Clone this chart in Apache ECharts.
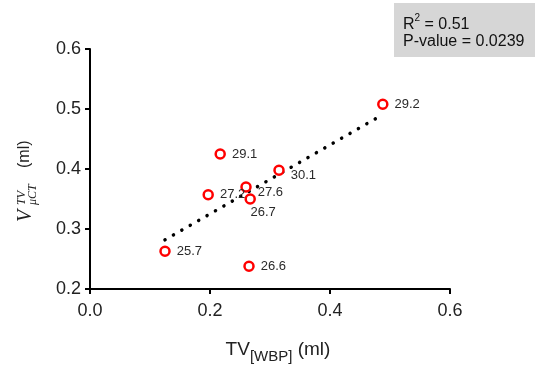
<!DOCTYPE html>
<html>
<head>
<meta charset="utf-8">
<script src="https://cdn.jsdelivr.net/npm/echarts@6/dist/echarts.min.js"></script>
<style>
html,body{margin:0;padding:0;background:#fff;}
#c{width:535px;height:365px;}
</style>
</head>
<body>
<div id="c"></div>
<script>
// Data
const tvWBP   = [0.488, 0.217, 0.315, 0.260, 0.267, 0.197, 0.125, 0.265];
const vMicroCT = [0.508, 0.425, 0.398, 0.370, 0.350, 0.357, 0.263, 0.238];
const pointLabels = ['29.2', '29.1', '30.1', '27.6', '26.7', '27.2', '25.7', '26.6'];
const fitX = [0.125, 0.478];
const fitY = [0.282, 0.485];
const xTicks = [0, 0.2, 0.4, 0.6];
const yTicks = [0.2, 0.3, 0.4, 0.5, 0.6];
const rSquared = '0.51';
const pValue = '0.0239';

// label placement (style, not data)
const labelStyleFor = {
  '30.1': {position: 'right', offset: [0, 5]},
  '27.6': {position: 'right', offset: [0, 5]},
  '26.7': {position: 'bottom', offset: [13, -5]}
};

const chart = echarts.init(document.getElementById('c'));
const pts = tvWBP.map((x, i) => {
  const lab = pointLabels[i];
  const ls = labelStyleFor[lab] || {position: 'right', offset: [0, 0]};
  return {value: [x, vMicroCT[i]], name: lab, label: {position: ls.position, offset: ls.offset}};
});
const fit = fitX.map((x, i) => [x, fitY[i]]);

const axisCommon = {
  axisLine: {show: true, onZero: false, lineStyle: {color: '#000', width: 2}},
  axisTick: {show: true, inside: false, length: 5, lineStyle: {color: '#000', width: 2}},
  splitLine: {show: false},
  axisLabel: {color: '#222', fontSize: 18, fontFamily: 'Liberation Sans, Arial, sans-serif'}
};

chart.setOption({
  animation: false,
  backgroundColor: '#fff',
  grid: {left: 90, right: 85, top: 49, bottom: 76, containLabel: false, outerBoundsMode: 'none'},
  xAxis: Object.assign({}, axisCommon, {
    type: 'value', min: 0, max: 0.6, interval: 0.2,
    axisLabel: Object.assign({}, axisCommon.axisLabel, {margin: 13, formatter: v => v.toFixed(1)}),
    name: '{a|TV}{b|[WBP]}{a| (ml)}',
    nameLocation: 'middle', nameGap: 47,
    nameTextStyle: {
      padding: [0, 0, 0, 16],
      rich: {
        a: {fontSize: 19, color: '#222', fontFamily: 'Liberation Sans, Arial, sans-serif', lineHeight: 28, verticalAlign: 'middle'},
        b: {fontSize: 15, color: '#222', fontFamily: 'Liberation Sans, Arial, sans-serif', lineHeight: 28, verticalAlign: 'bottom'}
      }
    }
  }),
  yAxis: Object.assign({}, axisCommon, {
    type: 'value', min: 0.2, max: 0.6, interval: 0.1,
    axisLabel: Object.assign({}, axisCommon.axisLabel, {margin: 9, formatter: v => v.toFixed(1)})
  }),
  series: [
    {
      type: 'line',
      data: fit,
      symbol: 'none',
      z: 1,
      lineStyle: {color: '#000', width: 3.5, type: [0.1, 9.6], cap: 'round'}
    },
    {
      type: 'scatter',
      data: pts,
      z: 3,
      symbol: 'circle',
      symbolSize: 9,
      itemStyle: {color: '#fff', borderColor: '#ff0000', borderWidth: 2.5, opacity: 1},
      label: {
        show: true,
        formatter: p => p.name,
        fontSize: 13,
        color: '#2a2a2a',
        distance: 6,
        fontFamily: 'Liberation Sans, Arial, sans-serif'
      }
    }
  ],
  graphic: [
    {
      type: 'rect', left: 394, top: 3,
      shape: {width: 141, height: 54},
      style: {fill: '#d6d6d6'}
    },
    {
      type: 'text', left: 403, top: 13,
      style: {
        text: '{a|R}{s|2}{a| = ' + rSquared + '}',
        rich: {
          a: {fontSize: 16, fill: '#111', fontFamily: 'Liberation Sans, Arial, sans-serif', lineHeight: 20, verticalAlign: 'bottom'},
          s: {fontSize: 10, fill: '#111', fontFamily: 'Liberation Sans, Arial, sans-serif', lineHeight: 20, verticalAlign: 'top'}
        }
      }
    },
    {
      type: 'text', left: 403, top: 34,
      style: {text: 'P-value = ' + pValue, fontSize: 16, fill: '#111', fontFamily: 'Liberation Sans, Arial, sans-serif'}
    },
    {
      type: 'group', x: 32, y: 222, rotation: Math.PI / 2,
      children: [
        {type: 'text', x: 0, y: 4, style: {text: 'V', font: 'italic 20px "Liberation Serif", serif', fill: '#222', verticalAlign: 'bottom'}},
        {type: 'text', x: 17, y: -4, style: {text: 'TV', font: 'italic 12px "Liberation Serif", serif', fill: '#222', verticalAlign: 'bottom'}},
        {type: 'text', x: 17, y: 7, style: {text: 'μCT', font: 'italic 12px "Liberation Serif", serif', fill: '#222', verticalAlign: 'bottom'}},
        {type: 'text', x: 54, y: 1, style: {text: '(ml)', font: '16px "Liberation Sans", Arial, sans-serif', fill: '#222', verticalAlign: 'bottom'}}
      ]
    }
  ]
});
</script>
</body>
</html>
